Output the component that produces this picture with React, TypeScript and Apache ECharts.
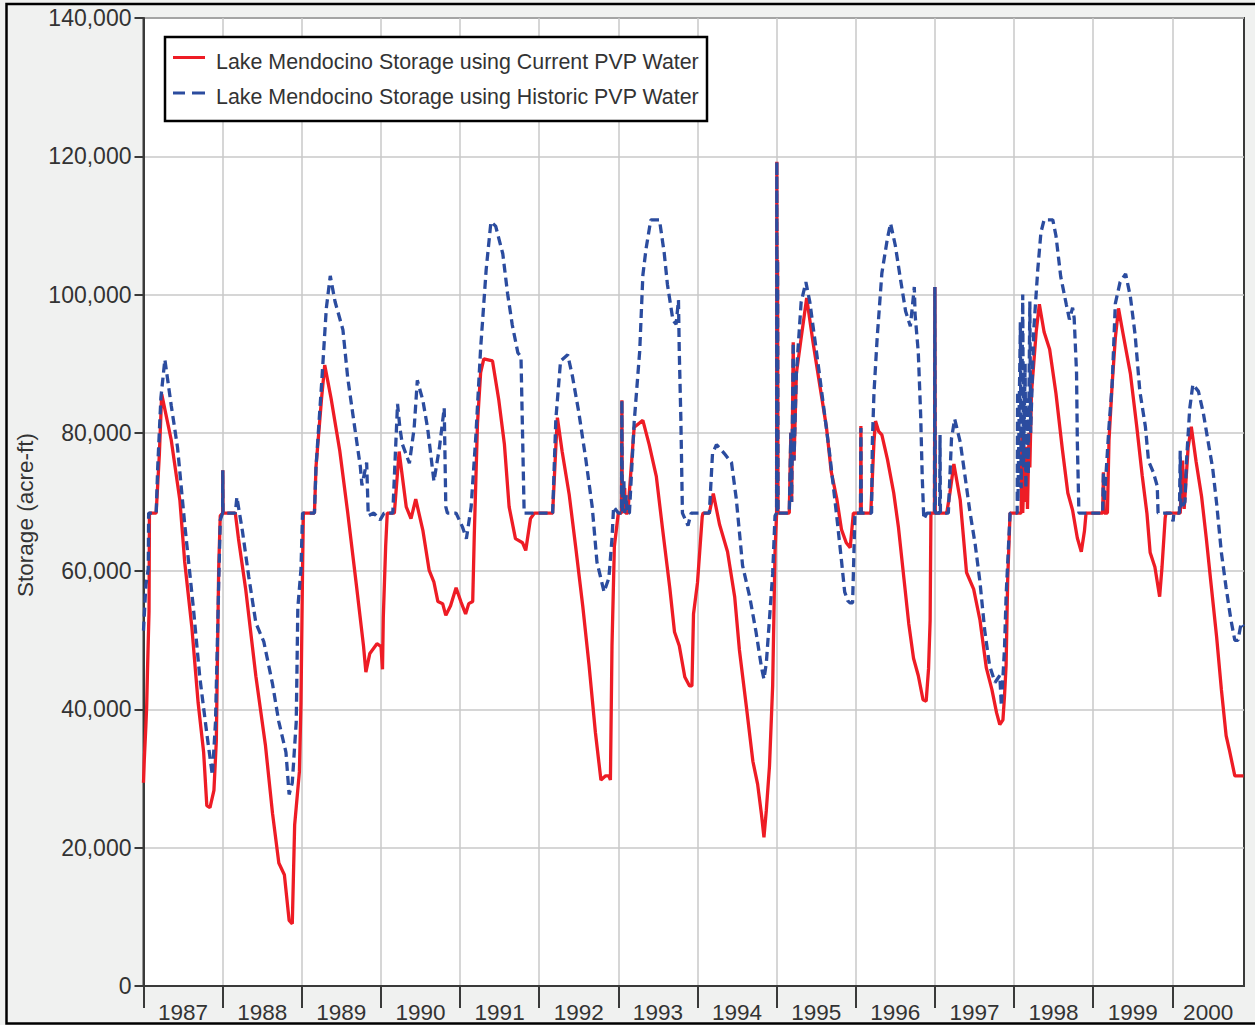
import { useEffect, useRef } from "react";
import * as echarts from "echarts";

// ---- axis data ----
const years = [1987, 1988, 1989, 1990, 1991, 1992, 1993, 1994, 1995, 1996, 1997, 1998, 1999, 2000];
const xMin = 1987;
const xMax = 2000.906;
const yMin = 0;
const yMax = 140000;
const yStep = 20000;
const yAxisName = "Storage (acre-ft)";
const legendLabels = [
  "Lake Mendocino Storage using Current PVP Water",
  "Lake Mendocino Storage using Historic PVP Water",
];

// ---- series data: [decimal year, storage acre-ft] ----
const currentPVP: [number, number][] = [
  [1987.0, 29400], [1987.01, 32700], [1987.03, 37600], [1987.04, 40400], [1987.05, 45400], [1987.07, 54200],
  [1987.075, 68400], [1987.16, 68400], [1987.2, 76800], [1987.23, 85600], [1987.35, 79000], [1987.46, 70200],
  [1987.52, 61400], [1987.61, 52000], [1987.69, 41000], [1987.76, 33800], [1987.8, 26100], [1987.84, 25800],
  [1987.89, 28300], [1987.92, 35400], [1987.95, 60300], [1987.97, 68000], [1988.0, 68400], [1988.002, 74600],
  [1988.005, 68400], [1988.16, 68400], [1988.2, 64700], [1988.29, 57500], [1988.42, 44800], [1988.54, 34900],
  [1988.63, 25000], [1988.71, 17800], [1988.78, 16100], [1988.84, 9500], [1988.88, 9000], [1988.91, 23300],
  [1988.97, 31000], [1988.99, 41000], [1989.01, 60300], [1989.02, 68400], [1989.16, 68400], [1989.18, 75100],
  [1989.25, 85000], [1989.29, 89800], [1989.37, 85000], [1989.48, 77400], [1989.58, 68500], [1989.69, 58000],
  [1989.78, 49200], [1989.81, 45400], [1989.86, 48100], [1989.95, 49500], [1989.99, 49200], [1990.0, 49300],
  [1990.02, 45800], [1990.03, 53300], [1990.06, 63600], [1990.08, 68400], [1990.17, 68400], [1990.23, 77300],
  [1990.32, 69300], [1990.38, 67600], [1990.44, 70400], [1990.53, 65900], [1990.61, 60100], [1990.67, 58400],
  [1990.72, 55600], [1990.78, 55300], [1990.82, 53600], [1990.88, 55000], [1990.95, 57600], [1991.01, 55600],
  [1991.07, 53800], [1991.11, 55300], [1991.16, 55600], [1991.18, 65300], [1991.22, 81300], [1991.26, 88700],
  [1991.3, 90700], [1991.41, 90400], [1991.49, 84700], [1991.56, 78400], [1991.62, 69300], [1991.7, 64700],
  [1991.79, 64100], [1991.83, 63000], [1991.89, 67600], [1991.94, 68400], [1992.17, 68400], [1992.21, 77900],
  [1992.23, 82200], [1992.29, 77300], [1992.38, 71000], [1992.46, 63600], [1992.55, 55000], [1992.63, 46400],
  [1992.71, 36700], [1992.78, 29800], [1992.84, 30400], [1992.88, 30400], [1992.9, 29800], [1992.92, 49300],
  [1992.95, 63600], [1993.0, 68400], [1993.04, 68400], [1993.045, 84700], [1993.05, 68400], [1993.08, 72000],
  [1993.09, 68400], [1993.12, 68400], [1993.2, 80800], [1993.31, 81800], [1993.39, 78300], [1993.48, 73700],
  [1993.56, 66000], [1993.65, 57600], [1993.71, 51200], [1993.77, 49200], [1993.84, 44700], [1993.9, 43400],
  [1993.93, 43400], [1993.95, 53800], [1994.0, 58300], [1994.06, 67900], [1994.07, 68400], [1994.15, 68400],
  [1994.2, 71200], [1994.28, 66700], [1994.38, 62800], [1994.47, 56300], [1994.53, 48600], [1994.62, 40200],
  [1994.7, 32500], [1994.76, 29200], [1994.81, 24700], [1994.84, 21500], [1994.87, 25400], [1994.91, 31800],
  [1994.95, 43400], [1994.98, 62800], [1995.0, 68400], [1995.003, 119200], [1995.008, 68400], [1995.012, 105000],
  [1995.018, 68400], [1995.16, 68400], [1995.18, 80000], [1995.19, 70000], [1995.21, 93100], [1995.22, 76000],
  [1995.25, 88600], [1995.31, 93700], [1995.38, 99500], [1995.46, 93100], [1995.54, 87300], [1995.63, 80800],
  [1995.69, 74400], [1995.76, 70500], [1995.82, 66000], [1995.88, 64100], [1995.93, 63400], [1995.97, 68400],
  [1996.06, 68400], [1996.065, 81000], [1996.07, 68400], [1996.19, 68400], [1996.23, 78700], [1996.25, 81700],
  [1996.29, 80200], [1996.33, 79700], [1996.4, 76200], [1996.48, 71300], [1996.54, 66300], [1996.61, 58800],
  [1996.67, 52400], [1996.73, 47400], [1996.79, 44900], [1996.85, 41400], [1996.89, 41200], [1996.92, 45900],
  [1996.94, 52900], [1996.95, 68400], [1996.995, 68400], [1997.0, 101100], [1997.005, 68400], [1997.15, 68400],
  [1997.19, 71300], [1997.24, 75500], [1997.32, 70300], [1997.4, 59800], [1997.49, 57400], [1997.57, 52900],
  [1997.65, 46000], [1997.72, 42900], [1997.78, 39500], [1997.82, 37800], [1997.86, 38500], [1997.88, 42000],
  [1997.9, 46400], [1997.92, 58800], [1997.95, 68400], [1998.09, 68400], [1998.1, 80000], [1998.11, 68400],
  [1998.13, 75000], [1998.14, 70000], [1998.16, 78000], [1998.17, 69000], [1998.19, 80000], [1998.2, 75000],
  [1998.22, 85700], [1998.28, 94600], [1998.32, 98600], [1998.38, 94600], [1998.45, 92100], [1998.53, 85700],
  [1998.61, 77700], [1998.68, 71300], [1998.74, 68800], [1998.8, 64800], [1998.85, 62800], [1998.89, 65800],
  [1998.91, 68400], [1999.12, 68400], [1999.13, 74300], [1999.14, 68400], [1999.18, 68400], [1999.2, 78900],
  [1999.24, 87000], [1999.28, 93700], [1999.32, 98000], [1999.38, 94200], [1999.47, 88600], [1999.55, 81000],
  [1999.62, 73800], [1999.68, 68300], [1999.72, 62700], [1999.78, 60600], [1999.84, 56300], [1999.87, 60600],
  [1999.91, 67700], [1999.92, 68400], [2000.1, 68400], [2000.13, 76000], [2000.15, 69000], [2000.2, 77900],
  [2000.24, 80900], [2000.3, 75900], [2000.37, 70800], [2000.43, 64700], [2000.49, 58100], [2000.56, 50500],
  [2000.62, 42900], [2000.68, 36200], [2000.72, 34200], [2000.79, 30400], [2000.9, 30400],
];

const historicPVP: [number, number][] = [
  [1987.0, 51400], [1987.03, 58000], [1987.06, 60300], [1987.065, 68400], [1987.16, 68400], [1987.18, 75100],
  [1987.22, 85100], [1987.27, 90600], [1987.35, 84000], [1987.43, 77900], [1987.52, 66900], [1987.63, 54700],
  [1987.71, 44800], [1987.8, 36500], [1987.87, 30500], [1987.91, 38200], [1987.95, 58000], [1987.97, 67400],
  [1988.0, 68400], [1988.002, 74600], [1988.005, 68400], [1988.16, 68400], [1988.18, 70700], [1988.25, 65800],
  [1988.33, 59200], [1988.42, 52500], [1988.52, 49800], [1988.63, 43700], [1988.71, 38200], [1988.8, 33800],
  [1988.84, 27700], [1988.88, 29400], [1988.93, 38200], [1988.95, 54700], [1988.99, 60300], [1989.01, 68400],
  [1989.16, 68400], [1989.18, 75100], [1989.25, 87000], [1989.31, 98000], [1989.36, 102700], [1989.42, 99000],
  [1989.52, 94900], [1989.58, 88000], [1989.65, 82300], [1989.74, 75100], [1989.76, 72400], [1989.82, 75700],
  [1989.84, 68000], [1989.91, 68400], [1989.99, 67400], [1990.04, 68400], [1990.15, 68400], [1990.21, 84200],
  [1990.24, 80700], [1990.27, 78400], [1990.36, 75600], [1990.42, 80700], [1990.46, 87600], [1990.53, 84700],
  [1990.59, 80700], [1990.67, 73000], [1990.74, 77900], [1990.8, 83600], [1990.82, 69300], [1990.84, 68400],
  [1990.95, 68400], [1991.03, 66400], [1991.08, 64700], [1991.14, 69300], [1991.2, 79600], [1991.26, 92200],
  [1991.33, 103600], [1991.39, 110500], [1991.45, 109900], [1991.54, 105900], [1991.6, 100200], [1991.66, 95600],
  [1991.73, 91600], [1991.77, 91000], [1991.81, 68400], [1992.17, 68400], [1992.21, 81900], [1992.27, 90400],
  [1992.36, 91300], [1992.42, 88200], [1992.5, 83000], [1992.59, 76100], [1992.67, 69300], [1992.73, 61300],
  [1992.82, 57000], [1992.88, 59000], [1992.92, 64700], [1992.94, 69300], [1993.0, 68400], [1993.04, 68400],
  [1993.045, 84700], [1993.05, 68400], [1993.07, 73000], [1993.08, 68400], [1993.1, 71000], [1993.11, 68400],
  [1993.14, 68400], [1993.2, 81500], [1993.27, 91800], [1993.31, 102800], [1993.35, 106600], [1993.41, 110800],
  [1993.52, 110800], [1993.58, 106000], [1993.62, 101500], [1993.69, 96300], [1993.73, 95700], [1993.76, 99200],
  [1993.77, 91800], [1993.79, 82100], [1993.81, 68400], [1993.88, 66600], [1993.92, 68400], [1994.15, 68400],
  [1994.19, 77000], [1994.24, 78300], [1994.34, 77000], [1994.43, 75700], [1994.49, 70500], [1994.57, 60800],
  [1994.66, 56300], [1994.74, 51200], [1994.81, 46000], [1994.84, 44400], [1994.87, 46700], [1994.91, 53100],
  [1994.95, 59600], [1994.98, 68000], [1995.0, 68400], [1995.003, 119200], [1995.008, 68400], [1995.012, 105000],
  [1995.018, 68400], [1995.16, 68400], [1995.18, 80000], [1995.19, 70000], [1995.21, 93100], [1995.22, 76000],
  [1995.25, 88600], [1995.31, 98900], [1995.37, 101800], [1995.42, 98900], [1995.54, 88600], [1995.67, 77000],
  [1995.76, 67900], [1995.82, 61500], [1995.86, 57000], [1995.9, 55700], [1995.93, 55400], [1995.96, 55400],
  [1995.97, 59600], [1995.99, 68400], [1996.06, 68400], [1996.065, 80700], [1996.07, 68400], [1996.2, 68400],
  [1996.21, 78700], [1996.23, 85700], [1996.27, 93600], [1996.33, 103100], [1996.4, 108100], [1996.44, 110300],
  [1996.5, 107100], [1996.56, 102600], [1996.63, 97600], [1996.69, 95400], [1996.74, 101100], [1996.75, 97100],
  [1996.79, 91700], [1996.82, 82700], [1996.84, 73700], [1996.86, 67500], [1996.9, 68400], [1996.995, 68400],
  [1997.0, 101100], [1997.005, 68400], [1997.06, 68400], [1997.065, 79700], [1997.07, 68400], [1997.17, 68400],
  [1997.21, 79200], [1997.25, 82000], [1997.32, 78700], [1997.38, 73800], [1997.44, 68800], [1997.51, 63800],
  [1997.57, 58400], [1997.63, 51400], [1997.69, 46400], [1997.76, 43900], [1997.82, 44900], [1997.84, 40500],
  [1997.88, 48900], [1997.9, 56400], [1997.95, 68400], [1998.04, 68400], [1998.045, 86000], [1998.05, 70000],
  [1998.08, 96000], [1998.09, 72000], [1998.11, 100000], [1998.12, 75000], [1998.14, 90000], [1998.15, 72000],
  [1998.17, 85000], [1998.18, 74000], [1998.2, 99000], [1998.21, 80000], [1998.25, 95000], [1998.3, 103600],
  [1998.34, 109000], [1998.38, 110800], [1998.49, 110800], [1998.53, 108500], [1998.59, 102600], [1998.66, 98600],
  [1998.7, 96400], [1998.74, 98100], [1998.76, 96600], [1998.79, 88700], [1998.8, 78700], [1998.82, 68400],
  [1999.12, 68400], [1999.13, 74300], [1999.14, 70000], [1999.2, 80900], [1999.24, 87000], [1999.28, 98700],
  [1999.34, 101800], [1999.41, 103000], [1999.47, 99700], [1999.53, 94200], [1999.59, 86000], [1999.66, 80900],
  [1999.7, 75900], [1999.76, 74300], [1999.81, 72300], [1999.82, 68400], [1999.98, 68400], [2000.01, 67200],
  [2000.02, 68400], [2000.09, 68400], [2000.1, 77400], [2000.11, 69000], [2000.16, 70000], [2000.18, 76000],
  [2000.22, 83500], [2000.26, 87000], [2000.33, 86000], [2000.39, 83000], [2000.45, 78900], [2000.51, 74900],
  [2000.56, 69800], [2000.62, 62700], [2000.68, 57600], [2000.74, 53000], [2000.79, 50000], [2000.83, 50000],
  [2000.87, 52500], [2000.9, 52000],
];

const RED = "#ee1c25";
const BLUE = "#2b4c9f";
const FONT = '"Liberation Sans", Arial, Helvetica, sans-serif';

export default function App() {
  const ref = useRef<HTMLDivElement>(null);

  useEffect(() => {
    if (!ref.current) return;
    const chart = echarts.init(ref.current, undefined, { renderer: "svg" });

    const labelCenters = years.map((y) => (y === years[years.length - 1] ? (y + xMax) / 2 : y + 0.5));

    const option: any = {
      animation: false,
      backgroundColor: "#f0f1f0",
      grid: {
        left: 143.5,
        top: 18,
        right: 11,
        bottom: 39,
        show: true,
        backgroundColor: "#ffffff",
        borderColor: "#3a3a3a",
        borderWidth: 2,
      },
      xAxis: {
        type: "value",
        min: xMin,
        max: xMax,
        interval: 1,
        axisLine: { show: true, lineStyle: { color: "#3a3a3a", width: 2 } },
        axisTick: {
          show: true,
          length: 22,
          customValues: years,
          lineStyle: { color: "#3a3a3a", width: 2 },
        },
        axisLabel: {
          customValues: labelCenters,
          formatter: (v: number) => String(Math.floor(v)),
          color: "#333",
          fontFamily: FONT,
          fontSize: 22.5,
          margin: 15,
        },
        splitLine: { show: true, lineStyle: { color: "#c8c8c8", width: 1.5 } },
      },
      yAxis: {
        type: "value",
        min: yMin,
        max: yMax,
        interval: yStep,
        axisLine: { show: true, lineStyle: { color: "#3a3a3a", width: 2 } },
        axisTick: { show: true, length: 9, lineStyle: { color: "#3a3a3a", width: 2 } },
        axisLabel: {
          formatter: (v: number) => v.toLocaleString("en-US"),
          color: "#333",
          fontFamily: FONT,
          fontSize: 23,
          margin: 12,
          padding: [6, 0, 0, 0],
        },
        splitLine: { show: true, lineStyle: { color: "#c8c8c8", width: 1.5 } },
      },
      series: [
        {
          name: legendLabels[0],
          type: "line",
          data: currentPVP,
          symbol: "none",
          showSymbol: false,
          lineStyle: { color: RED, width: 3.3 },
          z: 2,
        },
        {
          name: legendLabels[1],
          type: "line",
          data: historicPVP,
          symbol: "none",
          showSymbol: false,
          lineStyle: { color: BLUE, width: 3.3, type: [9, 5] },
          z: 3,
        },
      ],
      graphic: [
        {
          type: "rect",
          z: 100,
          shape: { x: 6.5, y: 4, width: 1270, height: 1019.5 },
          style: { fill: "none", stroke: "#000", lineWidth: 2.5 },
          silent: true,
        },
        {
          type: "text",
          z: 100,
          x: 25,
          y: 515,
          rotation: Math.PI / 2,
          style: {
            text: yAxisName,
            fill: "#333",
            font: `22.5px ${FONT}`,
            align: "center",
            verticalAlign: "middle",
          },
        },
        {
          type: "rect",
          z: 100,
          shape: { x: 165, y: 37, width: 542, height: 84 },
          style: { fill: "#ffffff", stroke: "#000", lineWidth: 2.5 },
        },
        {
          type: "line",
          z: 101,
          shape: { x1: 173, y1: 57.5, x2: 205, y2: 57.5 },
          style: { stroke: RED, lineWidth: 3 },
        },
        {
          type: "line",
          z: 101,
          shape: { x1: 173, y1: 93, x2: 185, y2: 93 },
          style: { stroke: BLUE, lineWidth: 3 },
        },
        {
          type: "line",
          z: 101,
          shape: { x1: 192, y1: 93, x2: 205, y2: 93 },
          style: { stroke: BLUE, lineWidth: 3 },
        },
        {
          type: "text",
          z: 101,
          x: 216,
          y: 62,
          style: {
            text: legendLabels[0],
            fill: "#333",
            font: `21.4px ${FONT}`,
            align: "left",
            verticalAlign: "middle",
          },
        },
        {
          type: "text",
          z: 101,
          x: 216,
          y: 97,
          style: {
            text: legendLabels[1],
            fill: "#333",
            font: `21.4px ${FONT}`,
            align: "left",
            verticalAlign: "middle",
          },
        },
      ],
    };

    chart.setOption(option);
    return () => chart.dispose();
  }, []);

  return (
    <div
      ref={ref}
      style={{ position: "absolute", left: 0, top: 0, width: 1255, height: 1025 }}
    />
  );
}
